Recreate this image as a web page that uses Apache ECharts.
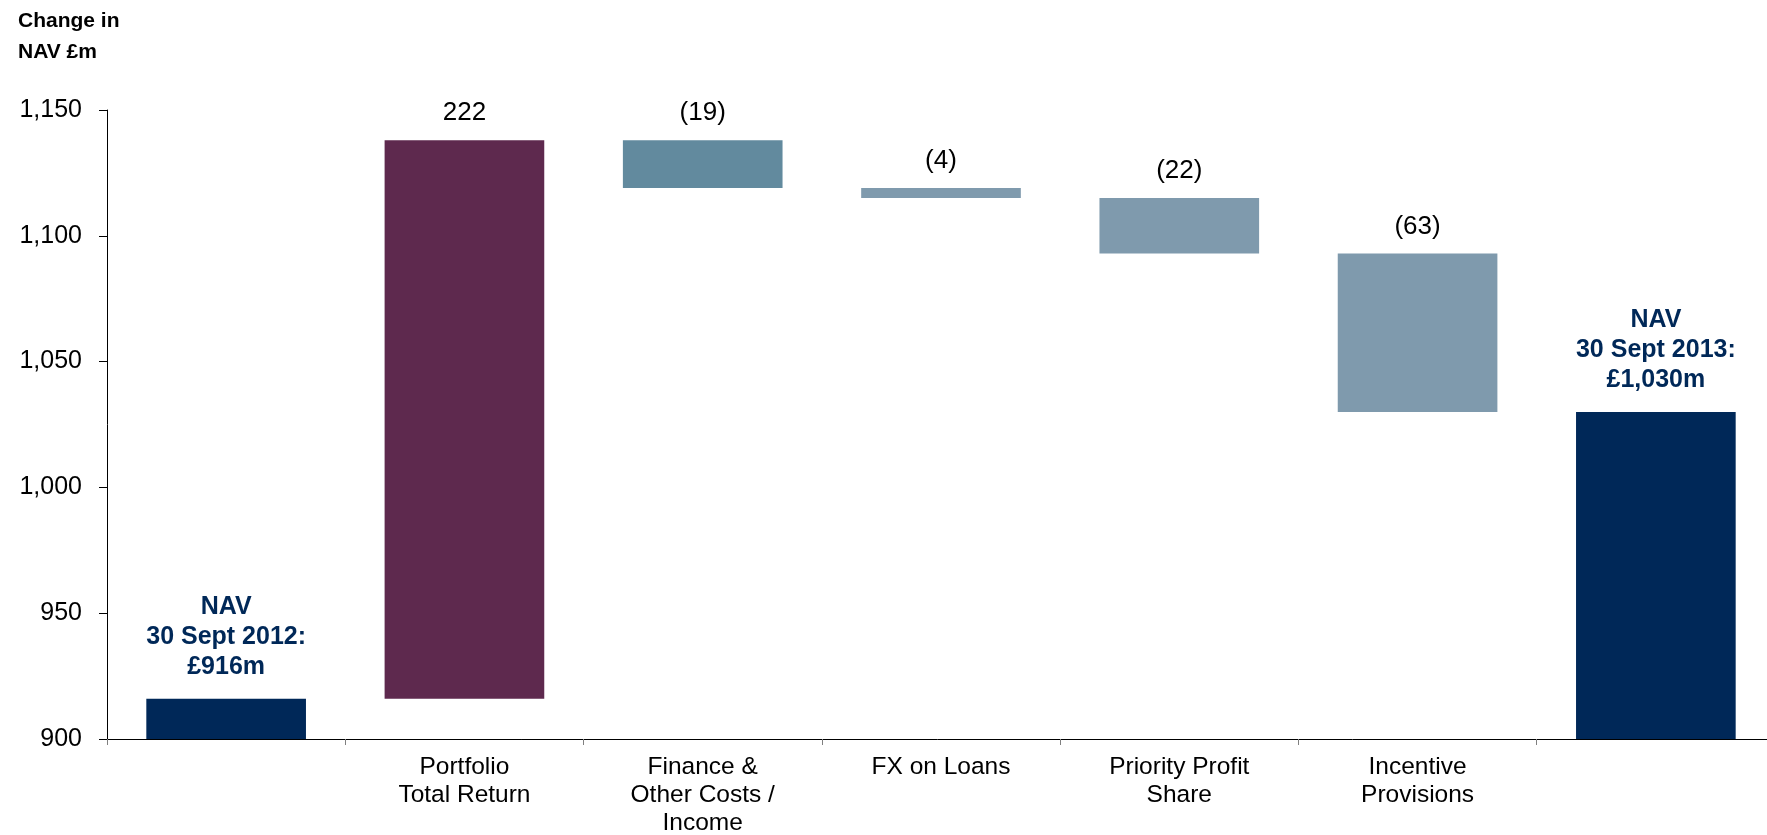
<!DOCTYPE html>
<html>
<head>
<meta charset="utf-8">
<title>Change in NAV</title>
<script src="https://cdn.jsdelivr.net/npm/echarts@6/dist/echarts.min.js"></script>
<style>
  html, body { margin: 0; padding: 0; background: #fff; }
  #chart { width: 1767px; height: 835px; }
</style>
</head>
<body>
<div id="chart"></div>
<script>
(function() {
    'use strict';

    // 数据
    const categories = ['', 'Portfolio\nTotal Return', 'Finance &\nOther Costs /\nIncome', 'FX on Loans', 'Priority Profit\nShare', 'Incentive\nProvisions', ''];
    const openingNav = 916;
    const changes = [222, -19, -4, -22, -63];
    const closingNav = 1030;
    const navDates = ['30 Sept 2012', '30 Sept 2013'];
    const barColors = ['#002858', '#5e294e', '#628a9e', '#7f9aad', '#7f9aad', '#7f9aad', '#002858'];

    const fontFamily = 'Arial, "Liberation Sans", sans-serif';

    function fmtNum(v) {
        return Math.abs(v).toLocaleString('en-GB');
    }

    // 计算瀑布图的透明底座与可见部分
    const baseData = [0];
    const barData = [openingNav];
    let running = openingNav;
    changes.forEach(c => {
        const next = running + c;
        baseData.push(Math.min(running, next));
        barData.push(Math.abs(c));
        running = next;
    });
    baseData.push(0);
    barData.push(closingNav);

    const navLabel = {
        show: true,
        position: 'top',
        distance: 17,
        color: '#002858',
        fontWeight: 'bold',
        fontSize: 25,
        lineHeight: 30,
        fontFamily: fontFamily,
        align: 'center'
    };

    const visible = barData.map((v, i) => {
        const item = { value: v, itemStyle: { color: barColors[i] } };
        if (i === 0 || i === barData.length - 1) {
            const total = i === 0 ? openingNav : closingNav;
            const date = i === 0 ? navDates[0] : navDates[1];
            item.label = Object.assign({}, navLabel, {
                formatter: 'NAV\n' + date + ':\n£' + fmtNum(total) + 'm'
            });
        } else {
            const c = changes[i - 1];
            item.label = {
                show: true,
                position: 'top',
                distance: 12,
                color: '#000',
                fontSize: 26,
                lineHeight: 30,
                fontFamily: fontFamily,
                formatter: c < 0 ? '(' + fmtNum(c) + ')' : fmtNum(c)
            };
        }
        return item;
    });

    const chart = echarts.init(document.getElementById('chart'));

    chart.setOption({
        animation: false,
        backgroundColor: '#fff',
        title: {
            text: 'Change in\nNAV £m',
            left: 18,
            top: 6,
            padding: 0,
            textStyle: {
                fontFamily: fontFamily,
                fontWeight: 'bold',
                fontSize: 21,
                lineHeight: 31,
                color: '#000'
            }
        },
        grid: {
            left: 107,
            right: -8,
            top: 110,
            bottom: 96,
            containLabel: false,
            outerBoundsMode: 'none'
        },
        xAxis: {
            type: 'category',
            data: categories,
            axisLine: { lineStyle: { color: '#000', width: 1 } },
            axisTick: {
                show: true,
                length: 6,
                lineStyle: { color: '#808080' }
            },
            axisLabel: {
                interval: 0,
                margin: 14,
                color: '#000',
                fontSize: 24.5,
                lineHeight: 28,
                fontFamily: fontFamily
            },
            splitLine: { show: false }
        },
        yAxis: {
            type: 'value',
            min: 900,
            max: 1150,
            interval: 50,
            axisLine: { show: true, lineStyle: { color: '#000', width: 1 } },
            axisTick: {
                show: true,
                length: 8,
                lineStyle: { color: '#000' }
            },
            axisLabel: {
                margin: 25,
                color: '#000',
                fontSize: 25,
                fontFamily: fontFamily,
                formatter: v => v.toLocaleString('en-GB')
            },
            splitLine: { show: false }
        },
        series: [
            {
                type: 'bar',
                stack: 'nav',
                data: baseData,
                itemStyle: { color: 'transparent' },
                barCategoryGap: '33%',
                silent: true
            },
            {
                type: 'bar',
                stack: 'nav',
                data: visible,
                barCategoryGap: '33%'
            }
        ]
    });
})();
</script>
</body>
</html>
